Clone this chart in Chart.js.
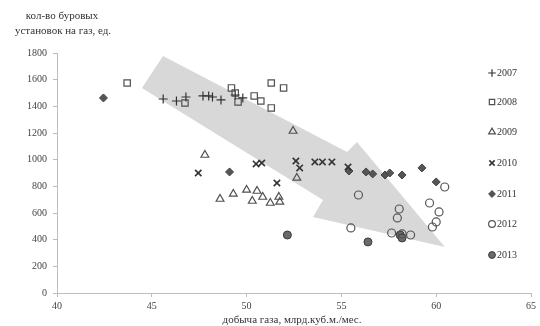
<!DOCTYPE html>
<html>
<head>
<meta charset="utf-8">
<script src="https://cdn.jsdelivr.net/npm/chart.js@4.4.1/dist/chart.umd.min.js"></script>
<style>
html,body{margin:0;padding:0;background:#fff;}
#wrap{width:540px;height:326px;position:relative;}
</style>
</head>
<body>
<div id="wrap"><canvas id="c" width="540" height="326"></canvas></div>
<script>
// ---- data (x: добыча газа, млрд.куб.м./мес.; y: кол-во буровых установок) ----
const years = ['2007','2008','2009','2010','2011','2012','2013'];
const x2007 = [45.6, 46.3, 46.8, 47.7, 48.0, 48.2, 48.65, 49.4, 49.8];
const y2007 = [1455, 1440, 1470, 1478, 1478, 1470, 1448, 1485, 1463];
const x2008 = [43.7, 46.75, 49.2, 49.4, 49.55, 50.4, 50.75, 51.3, 51.95, 51.3];
const y2008 = [1575, 1425, 1538, 1500, 1433, 1478, 1440, 1575, 1538, 1388];
const x2009 = [47.8, 52.45, 48.6, 49.3, 50.0, 50.3, 50.55, 50.85, 51.25, 51.7, 51.75, 52.65];
const y2009 = [1035, 1215, 705, 743, 773, 690, 765, 720, 675, 720, 683, 863];
const x2010 = [47.45, 50.5, 50.8, 51.6, 52.6, 52.8, 53.6, 54.0, 54.5, 55.35];
const y2010 = [900, 968, 975, 825, 990, 938, 983, 983, 983, 945];
const x2011 = [42.45, 49.1, 55.4, 56.3, 56.65, 57.3, 57.55, 58.2, 59.25, 60.0];
const y2011 = [1463, 908, 915, 908, 893, 885, 900, 885, 938, 833];
const x2012 = [55.5, 55.9, 58.05, 57.95, 57.65, 58.2, 58.65, 59.65, 60.15, 60.0, 59.8, 60.45];
const y2012 = [488, 735, 630, 563, 450, 443, 435, 675, 608, 533, 495, 795];
const x2013 = [52.15, 56.4, 58.1, 58.2];
const y2013 = [435, 383, 435, 413];
const xTicks = [40, 45, 50, 55, 60, 65];
const yTicks = [0, 200, 400, 600, 800, 1000, 1200, 1400, 1600, 1800];
// decorative trend arrow outline, in data coordinates [x, y]
const arrowPath = [[45.59,1778],[55.30,1058],[55.82,1133],[60.46,345],[53.50,570],[54.03,698],[44.48,1538]];

const yTitle = ['кол-во буровых', 'установок на газ, ед.'];
const xTitle = 'добыча газа, млрд.куб.м./мес.';

function pts(xs, ys){ return xs.map((v,i)=>({x:v, y:ys[i]})); }

const SERIF = '"Liberation Serif", "DejaVu Serif", serif';
const styles = [
  {pointStyle:'cross',    radius:4.5, bg:'rgba(0,0,0,0)', border:'#333', bw:1.2},
  {pointStyle:'rect',     radius:4.5, bg:'rgba(0,0,0,0)', border:'#505050', bw:1.2},
  {pointStyle:'triangle', radius:4.5, bg:'rgba(0,0,0,0)', border:'#505050', bw:1.2},
  {pointStyle:'crossRot', radius:4.5, bg:'rgba(0,0,0,0)', border:'#333', bw:1.6},
  {pointStyle:'rectRot',  radius:4,   bg:'#555', border:'#444', bw:1},
  {pointStyle:'circle',   radius:4,   bg:'rgba(0,0,0,0)', border:'#555', bw:1.2},
  {pointStyle:'circle',   radius:4,   bg:'#6a6a6a', border:'#3a3a3a', bw:1}
];
const seriesData = [pts(x2007,y2007), pts(x2008,y2008), pts(x2009,y2009), pts(x2010,y2010),
                    pts(x2011,y2011), pts(x2012,y2012), pts(x2013,y2013)];

const datasets = years.map((yr,i)=>({
  label: yr,
  data: seriesData[i],
  pointStyle: styles[i].pointStyle,
  pointRadius: styles[i].radius,
  pointBackgroundColor: styles[i].bg,
  pointBorderColor: styles[i].border,
  pointBorderWidth: styles[i].bw,
  showLine: false
}));

const arrowPlugin = {
  id: 'arrow',
  beforeDatasetsDraw(chart){
    const {ctx, scales:{x, y}} = chart;
    ctx.save();
    ctx.beginPath();
    arrowPath.forEach((p,i)=>{
      const px = x.getPixelForValue(p[0]), py = y.getPixelForValue(p[1]);
      if(i===0) ctx.moveTo(px,py); else ctx.lineTo(px,py);
    });
    ctx.closePath();
    ctx.fillStyle = '#d8d8d8';
    ctx.fill();
    ctx.restore();
  }
};

function drawMarker(ctx, st, cx, cy, k){
  const r = st.radius * k;
  ctx.save();
  ctx.lineWidth = st.bw;
  ctx.strokeStyle = st.border;
  ctx.fillStyle = st.bg;
  ctx.beginPath();
  switch(st.pointStyle){
    case 'cross':
      ctx.moveTo(cx-r,cy); ctx.lineTo(cx+r,cy); ctx.moveTo(cx,cy-r); ctx.lineTo(cx,cy+r); ctx.stroke(); break;
    case 'crossRot':
      ctx.moveTo(cx-r*0.7,cy-r*0.7); ctx.lineTo(cx+r*0.7,cy+r*0.7);
      ctx.moveTo(cx+r*0.7,cy-r*0.7); ctx.lineTo(cx-r*0.7,cy+r*0.7); ctx.stroke(); break;
    case 'rect':
      ctx.rect(cx-r*0.7,cy-r*0.7,r*1.4,r*1.4); ctx.fill(); ctx.stroke(); break;
    case 'rectRot':
      ctx.moveTo(cx,cy-r); ctx.lineTo(cx+r,cy); ctx.lineTo(cx,cy+r); ctx.lineTo(cx-r,cy); ctx.closePath(); ctx.fill(); ctx.stroke(); break;
    case 'triangle':
      ctx.moveTo(cx,cy-r); ctx.lineTo(cx+r*0.87,cy+r*0.5); ctx.lineTo(cx-r*0.87,cy+r*0.5); ctx.closePath(); ctx.fill(); ctx.stroke(); break;
    default:
      ctx.arc(cx,cy,r,0,Math.PI*2); ctx.fill(); ctx.stroke();
  }
  ctx.restore();
}

const textPlugin = {
  id: 'texts',
  afterDraw(chart){
    const ctx = chart.ctx;
    ctx.save();
    ctx.fillStyle = '#333';
    ctx.font = '11px ' + SERIF;
    ctx.textAlign = 'center';
    ctx.textBaseline = 'middle';
    ctx.fillText(yTitle[0], 62, 16);
    ctx.fillText(yTitle[1], 63, 31);
    ctx.fillText(xTitle, 292, 320);
    // legend
    ctx.font = '10px ' + SERIF;
    ctx.textAlign = 'left';
    const ly = [73, 102, 132, 163, 194, 224, 255];
    years.forEach((yr,i)=>{
      drawMarker(ctx, styles[i], 492, ly[i], 0.85);
      ctx.fillStyle = '#333';
      ctx.fillText(yr, 497, ly[i]+0.5);
    });
    ctx.restore();
  }
};

new Chart(document.getElementById('c'), {
  type: 'scatter',
  data: { datasets },
  options: {
    responsive: false,
    animation: false,
    layout: { padding: { left: 0, top: 53, right: 9, bottom: 0 } },
    plugins: { legend: { display: false }, tooltip: { enabled: false } },
    scales: {
      x: {
        type: 'linear', min: 40, max: 65,
        afterBuildTicks(s){ s.ticks = xTicks.map(v=>({value:v})); },
        afterFit(s){ s.height = 33; },
        grid: { drawOnChartArea: false, drawTicks: true, tickLength: 4, color: '#bdbdbd' },
        border: { color: '#bdbdbd', width: 1 },
        ticks: { color: '#444', font: { family: SERIF, size: 10 }, padding: 3, maxRotation: 0,
                 callback: v => String(v) }
      },
      y: {
        type: 'linear', min: 0, max: 1800,
        afterBuildTicks(s){ s.ticks = yTicks.map(v=>({value:v})); },
        afterFit(s){ s.width = 57; },
        grid: { drawOnChartArea: false, drawTicks: true, tickLength: 4, color: '#bdbdbd' },
        border: { color: '#bdbdbd', width: 1 },
        ticks: { color: '#444', font: { family: SERIF, size: 10 }, padding: 6,
                 callback: v => String(v) }
      }
    }
  },
  plugins: [arrowPlugin, textPlugin]
});
</script>
</body>
</html>
